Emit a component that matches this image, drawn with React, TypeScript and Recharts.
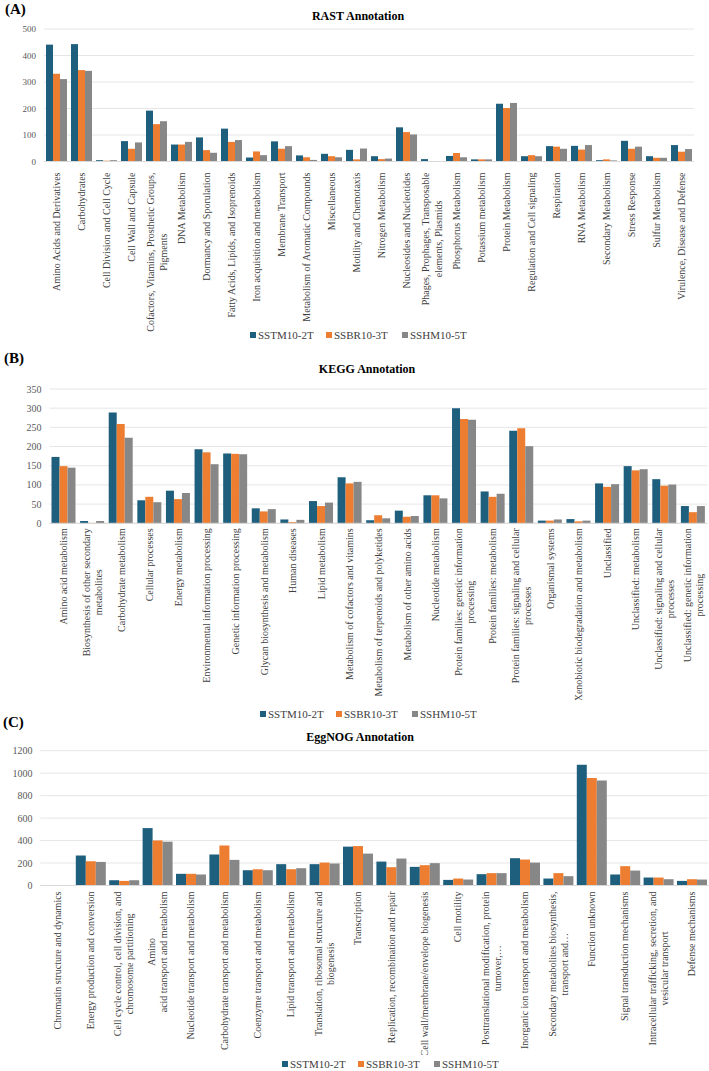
import { BarChart, Bar, XAxis, YAxis, CartesianGrid } from 'recharts'

const SERIF = '"Times New Roman", "Liberation Serif", "DejaVu Serif", serif'
const BLUE = '#1f5f7e'
const ORANGE = '#ed7d31'
const GRAY = '#878787'
const seriesNames = ['SSTM10-2T', 'SSBR10-3T', 'SSHM10-5T']

// (A) RAST
const rastCategories = [
  'Amino Acids and Derivatives',
  'Carbohydrates',
  'Cell Division and Cell Cycle',
  'Cell Wall and Capsule',
  'Cofactors, Vitamins, Prosthetic Groups,\nPigments',
  'DNA Metabolism',
  'Dormancy and Sporulation',
  'Fatty Acids, Lipids, and Isoprenoids',
  'Iron acquisition and metabolism',
  'Membrane Transport',
  'Metabolism of Aromatic Compounds',
  'Miscellaneous',
  'Motility and Chemotaxis',
  'Nitrogen Metabolism',
  'Nucleosides and Nucleotides',
  'Phages, Prophages, Transposable\nelements, Plasmids',
  'Phosphorus Metabolism',
  'Potassium metabolism',
  'Protein Metabolism',
  'Regulation and Cell signaling',
  'Respiration',
  'RNA Metabolism',
  'Secondary Metabolism',
  'Stress Response',
  'Sulfur Metabolism',
  'Virulence, Disease and Defense',
]
const rastSSTM = [441, 443, 5, 77, 192, 64, 91, 124, 15, 76, 23, 29, 44, 20, 129, 9, 21, 8, 218, 20, 58, 59, 5, 78, 20, 62]
const rastSSBR = [331, 345, 3, 48, 141, 64, 43, 74, 38, 48, 16, 20, 8, 9, 111, 1, 32, 8, 202, 24, 56, 45, 8, 48, 14, 37]
const rastSSHM = [311, 342, 5, 72, 152, 74, 33, 81, 24, 58, 6, 16, 49, 11, 102, 1, 16, 8, 221, 20, 48, 62, 4, 56, 14, 47]
const rastTicks = [0, 100, 200, 300, 400, 500]

// (B) KEGG
const keggCategories = [
  'Amino acid metabolism',
  'Biosynthesis of other secondary\nmetabolites',
  'Carbohydrate metabolism',
  'Cellular processes',
  'Energy metabolism',
  'Environmental information processing',
  'Genetic information processing',
  'Glycan biosynthesis and metabolism',
  'Human diseases',
  'Lipid metabolism',
  'Metabolism of cofactors and vitamins',
  'Metabolism of terpenoids and polyketides',
  'Metabolism of other amino acids',
  'Nucleotide metabolism',
  'Protein families: genetic information\nprocessing',
  'Protein families: metabolism',
  'Protein families: signaling and cellular\nprocesses',
  'Organismal systems',
  'Xenobiotic biodegradation and metabolism',
  'Unclassified',
  'Unclassified: metabolism',
  'Unclassified: signaling and cellular\nprocesses',
  'Unclassified: genetic information\nprocessing',
]
const keggSSTM = [173, 6, 289, 60, 85, 193, 182, 39, 10, 58, 120, 8, 33, 73, 300, 83, 241, 7, 11, 104, 149, 115, 45]
const keggSSBR = [149, 1, 259, 69, 63, 185, 181, 31, 3, 45, 104, 21, 17, 73, 272, 69, 248, 7, 5, 95, 138, 98, 29]
const keggSSHM = [145, 6, 223, 55, 79, 154, 180, 37, 9, 54, 108, 13, 19, 65, 270, 77, 201, 10, 7, 102, 141, 101, 45]
const keggTicks = [0, 50, 100, 150, 200, 250, 300, 350]

// (C) EggNOG
const eggCategories = [
  'Chromatin structure and dynamics',
  'Energy production and conversion',
  'Cell cycle control, cell division, and\nchromosome partitioning',
  'Amino\nacid transport and metabolism',
  'Nucleotide transport and metabolism',
  'Carbohydrate transport and metabolism',
  'Coenzyme transport and metabolism',
  'Lipid transport and metabolism',
  'Translation, ribosomal structure and\nbiogenesis',
  'Transcription',
  'Replication, recombination and repair',
  'Cell wall/membrane/envelope biogenesis',
  'Cell motility',
  'Posttranslational modification, protein\nturnover,…',
  'Inorganic ion transport and metabolism',
  'Secondary metabolites biosynthesis,\ntransport and…',
  'Function unknown',
  'Signal transduction mechanisms',
  'Intracellular trafficking, secretion, and\nvesicular transport',
  'Defense mechanisms',
]
const eggSSTM = [4, 267, 47, 511, 104, 276, 136, 190, 190, 346, 213, 166, 50, 101, 243, 62, 1074, 98, 71, 41]
const eggSSBR = [1, 216, 41, 401, 104, 356, 145, 145, 204, 351, 163, 181, 62, 110, 231, 110, 958, 172, 71, 56]
const eggSSHM = [1, 210, 47, 390, 98, 228, 136, 154, 196, 284, 240, 199, 53, 110, 204, 83, 934, 133, 56, 53]
const eggTicks = [0, 200, 400, 600, 800, 1000, 1200]

const build = (cats: string[], a: number[], b: number[], c: number[]) =>
  cats.map((name, i) => ({ name, sstm: a[i], ssbr: b[i], sshm: c[i] }))

let ctx: CanvasRenderingContext2D | null = null
function textWidth(s: string, size: number) {
  if (!ctx) ctx = document.createElement('canvas').getContext('2d')
  if (!ctx) return s.length * size * 0.45
  ctx.font = `${size}px ${SERIF}`
  return ctx.measureText(s).width
}

function RotatedTick(props: any) {
  const { x, y, payload, offset, lineHeight } = props
  const lines = String(payload.value).split('\n')
  const n = lines.length
  const w = Math.max(...lines.map((l) => textWidth(l, 10)))
  return (
    <g transform={`translate(${x},${y})`}>
      <text
        transform="rotate(-90)"
        textAnchor={n > 1 ? 'middle' : 'end'}
        fontSize={10}
        style={{ fontFamily: SERIF }}
        fill="#404040"
      >
        {lines.map((l, i) => (
          <tspan key={i} x={n > 1 ? -(offset + w / 2) : -offset} y={(i - (n - 1) / 2) * lineHeight} dy="0.35em">
            {l}
          </tspan>
        ))}
      </text>
    </g>
  )
}

interface PanelProps {
  data: { name: string; sstm: number; ssbr: number; sshm: number }[]
  top: number
  height: number
  plotTop: number
  plotBottom: number
  plotLeft: number
  plotRight: number
  ticks: number[]
  yFont: number
  labelOffset: number
  lineHeight: number
}

function Panel({ data, top, height, plotTop, plotBottom, plotLeft, plotRight, ticks, yFont, labelOffset, lineHeight }: PanelProps) {
  return (
    <div style={{ position: 'absolute', left: 0, top }}>
      <BarChart
        width={709}
        height={height}
        data={data}
        barGap={0}
        barCategoryGap={2}
        margin={{ top: plotTop - top, right: 709 - plotRight, bottom: 0, left: 0 }}
        style={{ fontFamily: SERIF }}
      >
        <CartesianGrid vertical={false} stroke="#e6e6e6" />
        <XAxis
          dataKey="name"
          interval={0}
          height={top + height - plotBottom}
          tickSize={0}
          tickMargin={0}
          axisLine={{ stroke: '#d9d9d9' }}
          tickLine={false}
          tick={(p: any) => <RotatedTick {...p} offset={labelOffset} lineHeight={lineHeight} />}
        />
        <YAxis
          width={plotLeft}
          domain={[0, ticks[ticks.length - 1]]}
          ticks={ticks}
          interval={0}
          axisLine={false}
          tickLine={false}
          tickSize={0}
          tickMargin={8}
          tick={{ fontSize: yFont, fill: '#595959', style: { fontFamily: SERIF } }}
        />
        <Bar dataKey="sstm" fill={BLUE} isAnimationActive={false} />
        <Bar dataKey="ssbr" fill={ORANGE} isAnimationActive={false} />
        <Bar dataKey="sshm" fill={GRAY} isAnimationActive={false} />
      </BarChart>
    </div>
  )
}

function LegendRow({ top, left }: { top: number; left: number }) {
  const colors = [BLUE, ORANGE, GRAY]
  return (
    <div style={{ position: 'absolute', top: top - 7, left, display: 'flex', fontFamily: SERIF, fontSize: 11, color: '#404040', lineHeight: '14px' }}>
      {seriesNames.map((s, i) => (
        <div key={s} style={{ width: 76, display: 'flex', alignItems: 'center' }}>
          <span style={{ width: 6, height: 6, background: colors[i], marginRight: 2, display: 'inline-block' }} />
          {s}
        </div>
      ))}
    </div>
  )
}

function Label({ text, top, left, size, center }: { text: string; top: number; left: number; size: number; center?: boolean }) {
  return (
    <div
      style={{
        position: 'absolute',
        top: top - size * 0.6,
        left: center ? left - 150 : left,
        width: center ? 300 : undefined,
        textAlign: center ? 'center' : 'left',
        fontFamily: SERIF,
        fontWeight: 'bold',
        fontSize: size,
        lineHeight: `${size * 1.2}px`,
        color: '#000',
      }}
    >
      {text}
    </div>
  )
}

export default function App() {
  return (
    <div style={{ position: 'absolute', top: 0, left: 0, width: 709, height: 1071, background: '#fff', overflow: 'hidden', fontFamily: SERIF }}>
      <Panel
        data={build(rastCategories, rastSSTM, rastSSBR, rastSSHM)}
        top={0}
        height={340}
        plotTop={29}
        plotBottom={161.5}
        plotLeft={44}
        plotRight={694}
        ticks={rastTicks}
        yFont={9}
        labelOffset={11}
        lineHeight={13}
      />
      <Panel
        data={build(keggCategories, keggSSTM, keggSSBR, keggSSHM)}
        top={360}
        height={340}
        plotTop={389}
        plotBottom={523.3}
        plotLeft={49.5}
        plotRight={707.5}
        ticks={keggTicks}
        yFont={10}
        labelOffset={5}
        lineHeight={12}
      />
      <Panel
        data={build(eggCategories, eggSSTM, eggSSBR, eggSSHM)}
        top={745}
        height={310}
        plotTop={750.7}
        plotBottom={885.5}
        plotLeft={40.4}
        plotRight={708.4}
        ticks={eggTicks}
        yFont={10}
        labelOffset={6}
        lineHeight={12}
      />
      <Label text="(A)" top={9} left={5} size={15} />
      <Label text="RAST Annotation" top={16} left={358} size={12} center />
      <Label text="(B)" top={358} left={4} size={15} />
      <Label text="KEGG Annotation" top={369} left={367} size={12} center />
      <Label text="(C)" top={722} left={3} size={15} />
      <Label text="EggNOG Annotation" top={737} left={360} size={12} center />
      <LegendRow top={335} left={250} />
      <LegendRow top={714} left={260} />
      <LegendRow top={1064} left={282} />
    </div>
  )
}
